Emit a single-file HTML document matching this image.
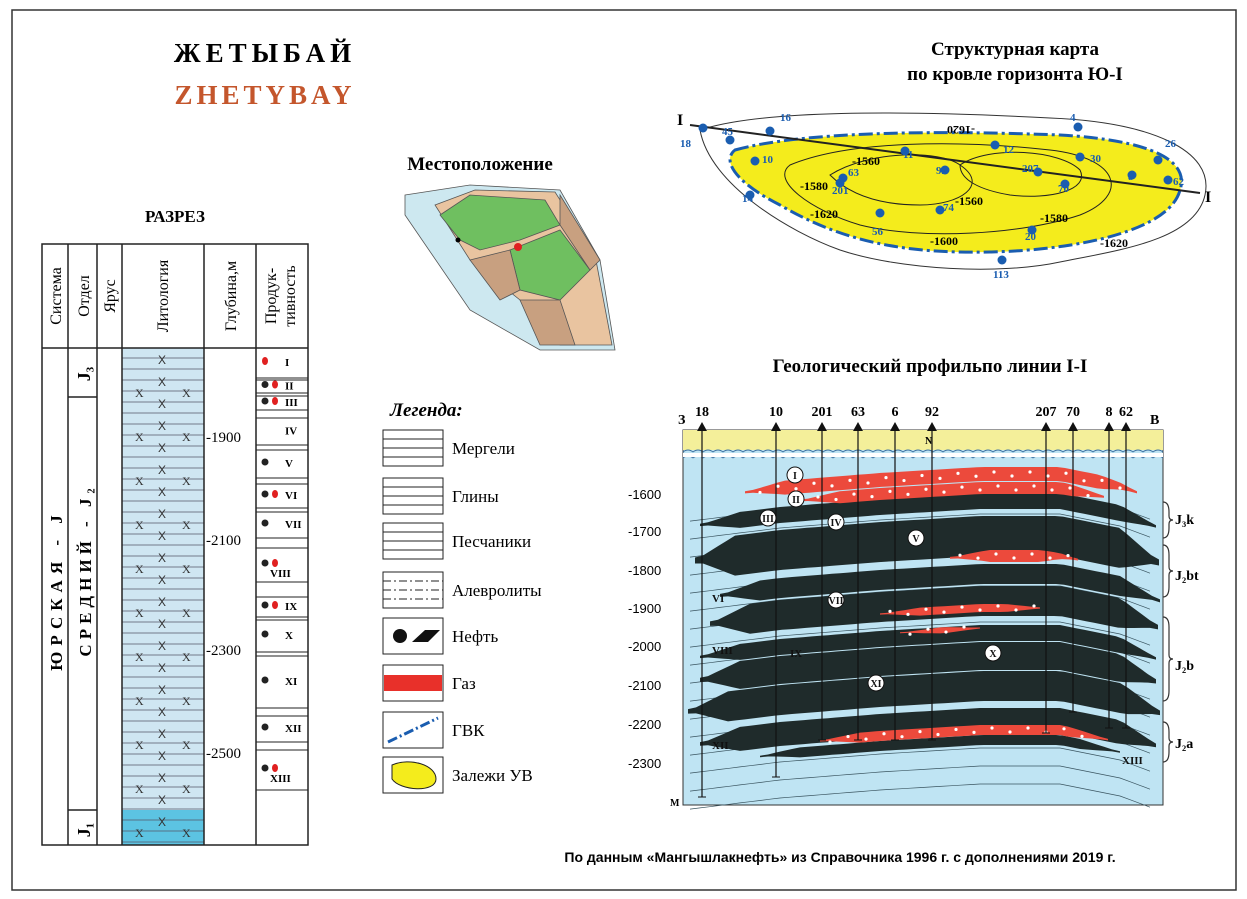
<!DOCTYPE html>
<html><head><meta charset="utf-8"><style>
body{margin:0;background:#fff;width:1247px;height:899px;overflow:hidden}
svg{display:block}
.s{font-family:"Liberation Serif",serif}
.a{font-family:"Liberation Sans",sans-serif}
</style></head><body>
<svg id="g" width="1247" height="899" viewBox="0 0 1247 899" xmlns="http://www.w3.org/2000/svg">
<rect x="12" y="10" width="1224" height="880" fill="#fff" stroke="#333" stroke-width="1.5"/>
<text x="265" y="62" class="s" font-size="27" font-weight="bold" text-anchor="middle" letter-spacing="5">ЖЕТЫБАЙ</text>
<text x="265" y="104" class="s" font-size="27" font-weight="bold" text-anchor="middle" fill="#c4562c" letter-spacing="4">ZHETYBAY</text>
<text x="175" y="222" class="s" font-size="17" font-weight="bold" text-anchor="middle">РАЗРЕЗ</text>
<rect x="122" y="348" width="82" height="462" fill="#cfe6f2"/>
<rect x="122" y="810" width="82" height="35" fill="#5cc3e2"/>
<g id="lith" stroke="#556" stroke-width="0.7"></g>
<g fill="none" stroke="#222" stroke-width="1.5">
<rect x="42" y="244" width="266" height="601"/>
<line x1="42" y1="348" x2="308" y2="348"/>
<line x1="68" y1="244" x2="68" y2="845"/><line x1="97" y1="244" x2="97" y2="845"/>
<line x1="122" y1="244" x2="122" y2="845"/><line x1="204" y1="244" x2="204" y2="845"/>
<line x1="256" y1="244" x2="256" y2="845"/>
<line x1="68" y1="397" x2="97" y2="397"/><line x1="68" y1="810" x2="97" y2="810"/>
</g>
<g class="s" font-size="16" text-anchor="middle">
<text transform="translate(61,296) rotate(-90)">Система</text>
<text transform="translate(89,296) rotate(-90)">Отдел</text>
<text transform="translate(115,296) rotate(-90)">Ярус</text>
<text transform="translate(168,296) rotate(-90)">Литология</text>
<text transform="translate(236,296) rotate(-90)">Глубина,м</text>
<text transform="translate(276,296) rotate(-90)">Продук-</text>
<text transform="translate(295,296) rotate(-90)">тивность</text>
<text transform="translate(62,590) rotate(-90)" font-weight="bold" letter-spacing="6" font-size="17">ЮРСКАЯ - J</text>
<text transform="translate(91,570) rotate(-90)" font-weight="bold" letter-spacing="5" font-size="17">СРЕДНИЙ - J₂</text>
<text transform="translate(90,374) rotate(-90)" font-weight="bold" font-size="18">J₃</text>
<text transform="translate(90,830) rotate(-90)" font-weight="bold" font-size="18">J₁</text>
</g>
<g class="s" font-size="15">
<text x="206" y="442">-1900</text><text x="206" y="545">-2100</text>
<text x="206" y="655">-2300</text><text x="206" y="758">-2500</text>
</g>
<g id="prod" class="s" font-size="11" font-weight="bold"></g>
<text x="480" y="170" class="s" font-size="19" font-weight="bold" text-anchor="middle">Местоположение</text>
<g stroke="#555" stroke-width="0.8">
<polygon points="405,195 470,185 560,190 600,260 615,350 540,350 470,310 405,215" fill="#cde8f0"/>
<polygon points="435,205 475,190 555,192 595,255 612,345 560,345 520,300 470,260" fill="#e9c4a0"/>
<polygon points="440,215 470,195 545,200 560,225 520,240 480,250 460,240" fill="#6fbf60"/>
<polygon points="510,250 560,230 590,270 560,300 520,290" fill="#6fbf60"/>
<polygon points="470,260 510,250 520,290 500,300" fill="#c8a080"/>
<polygon points="520,300 560,300 575,345 540,345" fill="#c8a080"/>
<polygon points="560,195 600,260 590,270 560,225" fill="#c8a080"/>
</g>
<circle cx="518" cy="247" r="4" fill="#e02020"/><circle cx="458" cy="240" r="2.5" fill="#000"/>
<text x="390" y="416" class="s" font-size="19" font-weight="bold" font-style="italic">Легенда:</text>
<g id="leg" class="s" font-size="17"></g>
<text x="1015" y="55" class="s" font-size="19" font-weight="bold" text-anchor="middle">Структурная карта</text>
<text x="1015" y="80" class="s" font-size="19" font-weight="bold" text-anchor="middle">по кровле горизонта Ю-I</text>
<path d="M700,130 C760,110 900,110 1050,118 C1150,122 1215,150 1205,195 C1195,240 1120,250 1060,262 C1000,275 900,270 840,250 C790,232 710,185 700,130Z" fill="none" stroke="#333"/>
<path d="M735,150 C800,132 930,130 1060,135 C1150,140 1190,160 1180,190 C1170,230 1080,250 990,252 C900,254 840,240 780,205 C740,185 720,162 735,150Z" fill="#f4ec1c" stroke="#1a5db0" stroke-width="3" stroke-dasharray="14,4,3,4"/>
<path d="M790,165 C850,140 960,140 1050,150 C1120,158 1130,195 1080,215 C1020,235 920,240 860,225 C810,210 770,180 790,165Z" fill="none" stroke="#222"/>
<path d="M830,175 C870,150 940,150 960,165 C990,185 960,205 920,205 C880,205 850,195 830,175Z" fill="none" stroke="#222"/>
<path d="M960,165 C990,145 1060,150 1080,170 C1090,190 1050,200 1010,195 C980,190 960,180 960,165Z" fill="none" stroke="#222"/>
<line x1="690" y1="125" x2="1200" y2="193" stroke="#222" stroke-width="2"/>
<text x="677" y="125" class="s" font-size="16" font-weight="bold">I</text>
<text x="1205" y="202" class="s" font-size="16" font-weight="bold">I</text>
<g id="wells" class="s" font-size="11" font-weight="bold" fill="#1a5db0"></g>
<g class="s" font-size="12" font-weight="bold">
<text x="852" y="165">-1560</text><text x="800" y="190">-1580</text><text x="955" y="205">-1560</text>
<text x="1040" y="222">-1580</text><text x="810" y="218">-1620</text><text x="930" y="245">-1600</text>
<text x="1100" y="247">-1620</text><text x="935" y="126" transform="rotate(180 955 126)">-1620</text>
</g>
<text x="930" y="372" class="s" font-size="19" font-weight="bold" text-anchor="middle">Геологический профильпо линии I-I</text>
<rect x="683" y="430" width="480" height="375" fill="#bfe4f3" stroke="#333"/>
<rect x="683" y="430" width="480" height="20" fill="#f4ef9a"/>
<path id="wave" d="" fill="none" stroke="#3a6fa0" stroke-width="1"/>
<text x="925" y="444" class="s" font-size="10" font-weight="bold">N</text>
<g id="prof"></g>
<g class="s" font-size="14" font-weight="bold">
<text x="678" y="424">З</text><text x="1150" y="424">В</text>
</g>
<g class="a" font-size="13">
<text x="628" y="499">-1600</text><text x="628" y="536">-1700</text><text x="628" y="575">-1800</text>
<text x="628" y="613">-1900</text><text x="628" y="651">-2000</text><text x="628" y="690">-2100</text>
<text x="628" y="729">-2200</text><text x="628" y="768">-2300</text>
</g>
<text x="670" y="806" class="s" font-size="10" font-weight="bold">М</text>
<g class="s" font-size="14" font-weight="bold">
<text x="1175" y="524">J₃k</text><text x="1175" y="580">J₂bt</text>
<text x="1175" y="670">J₂b</text><text x="1175" y="748">J₂a</text>
</g>
<g fill="none" stroke="#333" stroke-width="1.2">
<path d="M1163,502 q6,0 6,10 v4 q0,4 4,4 q-4,0 -4,4 v4 q0,10 -6,10"/>
<path d="M1163,545 q6,0 6,10 v12 q0,4 4,4 q-4,0 -4,4 v12 q0,10 -6,10"/>
<path d="M1163,617 q6,0 6,10 v28 q0,4 4,4 q-4,0 -4,4 v28 q0,10 -6,10"/>
<path d="M1163,722 q6,0 6,10 v6 q0,4 4,4 q-4,0 -4,4 v6 q0,10 -6,10"/>
</g>
<text x="840" y="862" class="a" font-size="14" font-weight="bold" text-anchor="middle">По данным «Мангышлакнефть» из Справочника 1996 г. с дополнениями 2019 г.</text>
</svg>
<script>
const NS="http://www.w3.org/2000/svg";
function el(p,t,a,txt){const e=document.createElementNS(NS,t);for(const k in a)e.setAttribute(k,a[k]);if(txt!=null)e.textContent=txt;document.getElementById(p).appendChild(e);return e;}
for(let y=358;y<845;y+=11){el("lith","line",{x1:122,y1:y,x2:204,y2:y});}
for(let y=364;y<840;y+=22){el("lith","text",{x:158,y:y,"font-size":"12",stroke:"none",fill:"#333","font-family":"Liberation Sans"},"X");
 if((y/22|0)%2)el("lith","text",{x:135,y:y+11,"font-size":"12",stroke:"none",fill:"#333"},"X"),el("lith","text",{x:182,y:y+11,"font-size":"12",stroke:"none",fill:"#333"},"X");}
const pr=[["I",348,378,"r"],["II",380,393,"br"],["III",396,410,"br"],["IV",418,445,""],["V",450,478,"b"],["VI",484,508,"br"],["VII",512,538,"b"],["VIII",548,582,"br"],["IX",597,617,"br"],["X",620,652,"b"],["XI",656,708,"b"],["XII",716,742,"b"],["XIII",750,790,"br"]];
pr.forEach(([n,a,b,k])=>{el("prod","line",{x1:256,y1:a,x2:308,y2:a,stroke:"#222"});el("prod","line",{x1:256,y1:b,x2:308,y2:b,stroke:"#222"});
 const m=(a+b)/2;let x=265;
 if(k.includes("b")){el("prod","circle",{cx:x,cy:m-2,r:3.5,fill:"#222"});x+=10;}
 if(k.includes("r")){el("prod","ellipse",{cx:x,cy:m-2,rx:3,ry:4,fill:"#e02020"});}
 el("prod","text",{x:k.length==2&&n.length>3?270:285,y:k.length==2&&n.length>3?m+12:m+3},n);});
const lg=["Мергели","Глины","Песчаники","Алевролиты","Нефть","Газ","ГВК","Залежи УВ"];
lg.forEach((t,i)=>{const y=[430,478,523,572,618,665,712,757][i];
 el("leg","rect",{x:383,y:y,width:60,height:36,fill:"#fff",stroke:"#222"});
 if(i<4)for(let k=1;k<4;k++)el("leg","line",{x1:383,y1:y+k*9,x2:443,y2:y+k*9,stroke:"#222","stroke-dasharray":i==3?"8,3,2,3":"none"});
 if(i==4){el("leg","circle",{cx:400,cy:y+18,r:7,fill:"#111"});el("leg","polygon",{points:`${412},${y+24} ${425},${y+12} ${440},${y+12} ${428},${y+24}`,fill:"#111"});}
 if(i==5){el("leg","rect",{x:384,y:y+10,width:58,height:16,fill:"#e8302a"});}
 if(i==6)el("leg","line",{x1:388,y1:y+30,x2:438,y2:y+6,stroke:"#1a5db0","stroke-width":3,"stroke-dasharray":"10,3,2,3"});
 if(i==7)el("leg","path",{d:`M392,${y+8} C410,${y} 436,${y+8} 436,${y+22} C436,${y+36} 400,${y+34} 392,${y+22}Z`,fill:"#f4ec1c",stroke:"#222"});
 el("leg","text",{x:452,y:y+24},t);});
[["18",703,128,680,147],["45",730,140,722,135],["16",770,131,780,121],["4",1078,127,1070,121],["26",1158,160,1165,147],["10",755,161,762,163],["11",905,151,903,158],["12",995,145,1003,153],["30",1080,157,1090,162],["63",843,178,848,176],["92",945,170,936,174],["207",1038,172,1022,172],["70",1065,184,1058,192],["8",1132,175,1128,180],["62",1168,180,1173,185],["201",840,183,832,194],["14",750,195,742,202],["56",880,213,872,235],["74",940,210,943,211],["20",1032,230,1025,240],["113",1002,260,993,278]].forEach(([n,x,y,tx,ty])=>{el("wells","circle",{cx:x,cy:y,r:4.5,fill:"#1a5db0"});el("wells","text",{x:tx,y:ty},n);});
let d="";for(let x=683;x<1163;x+=10)d+=`M${x},452 q5,-4 10,0 `;document.getElementById("wave").setAttribute("d",d);
let d2="";for(let x=683;x<1163;x+=10)d2+=`M${x},458 q5,-4 10,0 `;el("prof","path",{d:d2,fill:"none",stroke:"#3a6fa0"});
el("prof","rect",{x:683,y:453,width:480,height:4,fill:"#fff"});
const fx=[[683,22],[780,10],[880,2],[980,-4],[1060,-4],[1120,8],[1163,24]];
function f(x){for(let i=0;i<fx.length-1;i++){const[a,fa]=fx[i],[b,fb]=fx[i+1];if(x<=b)return fa+(fb-fa)*(x-a)/(b-a);}return 24;}
function lens(m,t,x1,x2,col){let top="",bot=[];for(let x=x1;x<=x2;x+=8){const taper=Math.min(1,(x-x1)/40,(x2-x)/40);const h=t*Math.max(0.15,taper)/2;top+=(top?"L":"M")+x+","+(m+f(x)-h).toFixed(1);bot.unshift("L"+x+","+(m+f(x)+h).toFixed(1));}
 el("prof","path",{d:top+bot.join("")+"Z",fill:col});}
for(let m=500;m<790;m+=18)el("prof","path",{d:(()=>{let s="";for(let x=690;x<=1158;x+=10)s+=(s?"L":"M")+x+","+(m+f(x)).toFixed(1);return s;})(),fill:"none",stroke:"#3a5560","stroke-width":0.7});
const B="#1f2b2b",R="#ec4a3c";
[[505,16,700,1160],[540,40,695,1160],[578,20,720,1160],[605,30,710,1160],[637,16,700,1160],[660,28,700,1160],[690,30,688,1163],[724,24,700,1160],[744,10,760,1120]].forEach(l=>lens(l[0],l[1],l[2],l[3],B));
[[478,14,745,1140],[492,12,800,1110],[560,12,950,1080],[612,8,880,1045],[632,6,900,985],[734,10,820,1110]].forEach(l=>lens(l[0],l[1],l[2],l[3],R));
[[478,760,1130],[492,800,1100],[560,960,1070],[612,890,1040],[632,910,980],[734,830,1100]].forEach(([m,a,b])=>{for(let x=a;x<b;x+=18)el("prof","circle",{cx:x,cy:m+f(x)+((x/18|0)%2?-2:2),r:1.6,fill:"#fff"});});
[["18",702,797],["10",776,777],["201",822,740],["63",858,740],["6",895,740],["92",932,740],["207",1046,733],["70",1073,712],["8",1109,728],["62",1126,728]].forEach(([n,x,b])=>{el("prof","line",{x1:x,y1:430,x2:x,y2:b,stroke:"#111","stroke-width":1.2});el("prof","line",{x1:x-4,y1:b,x2:x+4,y2:b,stroke:"#111"});
 el("prof","polygon",{points:`${x-5},431 ${x+5},431 ${x},422`,fill:"#111"});
 el("prof","text",{x:x,y:416,"text-anchor":"middle","font-family":"Liberation Serif","font-size":"14","font-weight":"bold"},n);});
[["I",795,475,1],["II",796,499,1],["III",768,518,1],["IV",836,522,1],["V",916,538,1],["VI",712,598,0],["VII",836,600,1],["VIII",712,650,0],["IX",790,653,0],["X",993,653,1],["XI",876,683,1],["XII",712,745,0],["XIII",1122,760,0]].forEach(([n,x,y,c])=>{if(c)el("prof","circle",{cx:x,cy:y,r:8,fill:"#fff",stroke:"#111"});el("prof","text",{x:x,y:y+4,"text-anchor":c?"middle":"start","font-family":"Liberation Serif","font-size":c?"10":"11","font-weight":"bold",fill:"#111"},n);});
</script>
</body></html>
